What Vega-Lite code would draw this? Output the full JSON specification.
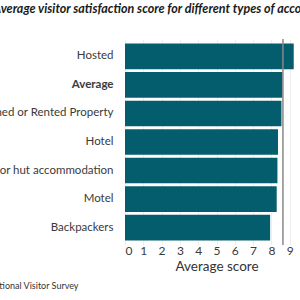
{
  "$schema": "https://vega.github.io/schema/vega-lite/v6.json",
  "autosize": "none",
  "width": 183,
  "height": 206,
  "padding": {"top": 39, "left": 125, "right": 0, "bottom": 55},
  "background": "white",
  "title": {
    "text": "Average visitor satisfaction score for different types of accommodation",
    "anchor": "start",
    "frame": "group",
    "dx": -132,
    "offset": 13,
    "baseline": "alphabetic",
    "font": "Lato",
    "fontSize": 12.5,
    "fontStyle": "italic",
    "fontWeight": "bold",
    "color": "#1a1a1a"
  },
  "data": {
    "values": [
      {"type": "Hosted", "score": 9.22},
      {"type": "Average", "score": 8.6},
      {"type": "Owned or Rented Property", "score": 8.55},
      {"type": "Hotel", "score": 8.36},
      {"type": "Camping ground, tent or hut accommodation", "score": 8.33},
      {"type": "Motel", "score": 8.29},
      {"type": "Backpackers", "score": 7.93}
    ]
  },
  "layer": [
    {
      "mark": {"type": "bar", "color": "#045d6d"},
      "encoding": {
        "y": {
          "field": "type",
          "type": "nominal",
          "sort": null,
          "scale": {"paddingInner": 0.1, "paddingOuter": 0.16},
          "axis": {
            "title": "Source: International Visitor Survey",
            "titleAngle": 0,
            "titleAlign": "right",
            "titleBaseline": "middle",
            "titleX": -47,
            "titleY": 246,
            "titleFont": "Lato",
            "titleFontSize": 9,
            "titleFontWeight": "normal",
            "titleColor": "#333333",
            "domain": false,
            "ticks": false,
            "labelPadding": 12,
            "labelFont": "Lato",
            "labelFontSize": 11.5,
            "labelColor": "#3a3a3a",
            "labelLimit": 400,
            "labelFontWeight": {"condition": {"test": "datum.value === 'Average'", "value": "bold"}, "value": "normal"}
          }
        },
        "x": {
          "field": "score",
          "type": "quantitative",
          "scale": {"domain": [0, 10], "nice": false},
          "axis": {
            "title": "Average score",
            "titleFont": "Lato",
            "titleFontSize": 13.5,
            "titleFontWeight": "normal",
            "titleColor": "#333333",
            "titlePadding": 3,
            "values": [0, 1, 2, 3, 4, 5, 6, 7, 8, 9],
            "labelOverlap": false,
            "domain": false,
            "ticks": false,
            "labelPadding": 0,
            "labelFont": "Lato",
            "labelFontSize": 12,
            "labelColor": "#3a3a3a",
            "grid": true,
            "gridColor": "#eeeeee",
            "gridWidth": 1
          }
        }
      }
    },
    {
      "data": {"values": [{"score": 8.63}]},
      "mark": {"type": "rule", "color": "#888888", "strokeWidth": 1.5},
      "encoding": {
        "x": {
          "field": "score",
          "type": "quantitative",
          "scale": {"domain": [0, 10], "nice": false},
          "axis": {
            "title": "Average score",
            "titleFont": "Lato",
            "titleFontSize": 13.5,
            "titleFontWeight": "normal",
            "titleColor": "#333333",
            "titlePadding": 3,
            "values": [0, 1, 2, 3, 4, 5, 6, 7, 8, 9],
            "labelOverlap": false,
            "domain": false,
            "ticks": false,
            "labelPadding": 0,
            "labelFont": "Lato",
            "labelFontSize": 12,
            "labelColor": "#3a3a3a",
            "grid": true,
            "gridColor": "#eeeeee",
            "gridWidth": 1
          }
        }
      }
    }
  ],
  "config": {"view": {"stroke": null}}
}
